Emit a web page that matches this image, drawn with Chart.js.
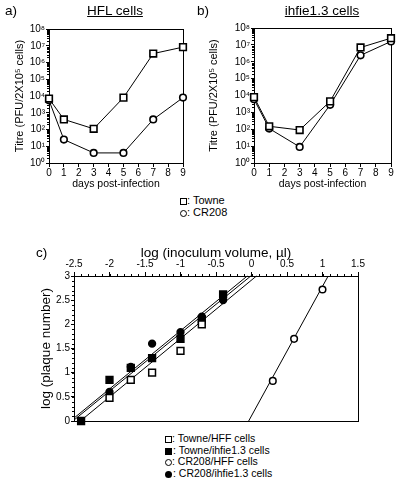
<!DOCTYPE html>
<html><head><meta charset="utf-8">
<script src="https://cdn.jsdelivr.net/npm/chart.js@4"></script>
<style>
body{margin:0;background:#fff;width:402px;height:485px;position:relative;overflow:hidden;font-family:"Liberation Sans",Arial,sans-serif;color:#000}
canvas{position:absolute}
.t{position:absolute;white-space:nowrap;line-height:1}
.sq{display:inline-block;width:5px;height:5px;border:1.5px solid #000;background:#fff;vertical-align:-1px}
.sqf{display:inline-block;width:7px;height:7px;background:#000;vertical-align:-1px;margin-right:1px}
.ci{display:inline-block;width:5px;height:5px;border:1.5px solid #000;border-radius:50%;background:#fff;vertical-align:-1px}
.cif{display:inline-block;width:7px;height:7px;border-radius:50%;background:#000;vertical-align:-1px;margin-right:1px}
.leg div{height:11.7px;line-height:11.7px}
</style></head><body>
<canvas id="ca" width="195" height="192" style="left:0;top:0"></canvas>
<canvas id="cb" width="207" height="192" style="left:195px;top:0"></canvas>
<canvas id="cc" width="402" height="200" style="left:0;top:230px"></canvas>

<div class="t" style="left:5px;top:4px;font-size:13.5px">a)</div>
<div class="t" style="left:115px;top:4px;font-size:13.5px;transform:translateX(-50%);text-decoration:underline">HFL cells</div>
<div class="t" style="left:197px;top:4px;font-size:13.5px">b)</div>
<div class="t" style="left:322px;top:4px;font-size:13.5px;transform:translateX(-50%);text-decoration:underline">ihfie1.3 cells</div>

<div class="t leg" style="left:180px;top:195px;font-size:11px">
<div><span class="sq"></span>: Towne</div>
<div><span class="ci"></span>: CR208</div>
</div>

<div class="t" style="left:36px;top:246px;font-size:13.5px">c)</div>

<div class="t leg" style="left:165px;top:433px;font-size:10.5px">
<div><span class="sq"></span>: Towne/HFF cells</div>
<div><span class="sqf"></span>: Towne/ihfie1.3 cells</div>
<div><span class="ci"></span>: CR208/HFF cells</div>
<div><span class="cif"></span>: CR208/ihfie1.3 cells</div>
</div>

<script>
// ---------- data ----------
const days = [0, 1, 3, 5, 7, 9];
const hflTowne = [7000, 400, 110, 8000, 3.4e6, 8.3e6];
const hflCR208 = [5500, 25, 4, 4, 400, 8000];
const ihfTowne = [8000, 150, 90, 4500, 7e6, 2.5e7];
const ihfCR208 = [6000, 110, 9, 2800, 2.4e6, 1.6e7];
const dayTicks = [0, 1, 2, 3, 4, 5, 6, 7, 8, 9];
const titreTicks = [1, 10, 100, 1e3, 1e4, 1e5, 1e6, 1e7, 1e8];
const titreLabels = ['10⁰', '10¹', '10²', '10³', '10⁴', '10⁵', '10⁶', '10⁷', '10⁸'];

const volTicks = [-2.5, -2, -1.5, -1, -0.5, 0, 0.5, 1, 1.5];
const volLabels = ['-2.5', '-2', '-1.5', '-1', '-0.5', '0', '0.5', '1', '1.5'];
const plaqueTicks = [0, 0.5, 1, 1.5, 2, 2.5, 3];
const plaqueLabels = ['0', '0.5', '1', '1.5', '2', '2.5', '3'];

const towneHffX = [-2.0, -1.7, -1.4, -1.0, -0.7];
const towneHffY = [0.48, 0.85, 1.0, 1.45, 2.0];
const towneIhfX = [-2.4, -2.0, -1.7, -1.4, -1.0, -0.7, -0.4];
const towneIhfY = [0.0, 0.85, 1.1, 1.3, 1.7, 2.1, 2.62];
const crHffX = [0.3, 0.6, 1.0];
const crHffY = [0.83, 1.7, 2.72];
const crIhfX = [-2.0, -1.7, -1.4, -1.0, -0.7, -0.4];
const crIhfY = [0.6, 1.12, 1.6, 1.84, 2.16, 2.5];

// fitted lines (end points)
const fitTowneHffX = [-2.41, 0.07], fitTowneHffY = [0, 3];
const fitTowneIhfX = [-2.5, -0.01], fitTowneIhfY = [0.02, 3];
const fitCrIhfX = [-2.5, -0.06], fitCrIhfY = [0.06, 3];
const fitCrHffX = [-0.04, 1.08], fitCrHffY = [0, 3];

// ---------- helpers ----------
const FONT = '"Liberation Sans", Arial, sans-serif';
const pts = (xs, ys) => xs.map((x, i) => ({x, y: ys[i]}));
const logMinor = [];
for (let n = 0; n < 8; n++) for (let k = 2; k <= 9; k++) logMinor.push(k * Math.pow(10, n));
const stepMinor = (a, b, s) => { const r = []; for (let v = a; v <= b + 1e-9; v += s) r.push(+v.toFixed(3)); return r; };

const framePlugin = {
  id: 'frame',
  beforeDatasetsDraw(chart, args, opts) {
    const ctx = chart.ctx;
    ctx.save();
    ctx.strokeStyle = '#000';
    ctx.lineWidth = 1;
    (opts.minor || []).forEach(s => {
      const sc = chart.scales[s.scale];
      s.values.forEach(v => {
        const p = Math.round(sc.getPixelForValue(v)) + 0.5;
        ctx.beginPath();
        if (sc.position === 'left') { const x = Math.round(chart.chartArea.left); ctx.moveTo(x - s.len, p); ctx.lineTo(x, p); }
        else if (sc.position === 'top') { const y = Math.round(chart.chartArea.top); ctx.moveTo(p, y - s.len); ctx.lineTo(p, y); }
        else { const y = Math.round(chart.chartArea.bottom); ctx.moveTo(p, y); ctx.lineTo(p, y + s.len); }
        ctx.stroke();
      });
    });
    const a = chart.chartArea;
    const l = Math.round(a.left) + 0.5, t = Math.round(a.top) + 0.5;
    ctx.strokeRect(l, t, Math.round(a.right) - Math.round(a.left), Math.round(a.bottom) - Math.round(a.top));
    ctx.restore();
  }
};

function timeChart(id, towne, cr, pad, yW, yTitlePad) {
  return new Chart(document.getElementById(id), {
    type: 'line',
    data: {
      datasets: [
        {label: 'Towne', data: pts(days, towne), borderColor: '#000', borderWidth: 1,
         pointStyle: 'rect', pointRadius: 4.7, pointBorderWidth: 1.6, pointBackgroundColor: '#fff', pointBorderColor: '#000', clip: false},
        {label: 'CR208', data: pts(days, cr), borderColor: '#000', borderWidth: 1,
         pointStyle: 'circle', pointRadius: 3.3, pointBorderWidth: 1.6, pointBackgroundColor: '#fff', pointBorderColor: '#000', clip: false}
      ]
    },
    options: {
      responsive: false, animation: false,
      layout: {padding: pad},
      plugins: {legend: {display: false}, tooltip: {enabled: false},
        frame: {minor: [{scale: 'y', values: logMinor, len: 2}]}},
      scales: {
        x: {type: 'linear', position: 'bottom', min: 0, max: 9,
          afterBuildTicks: s => { s.ticks = dayTicks.map(v => ({value: v})); },
          afterFit: s => { s.height = 192 - 163 - pad.bottom; },
          ticks: {color: '#000', font: {family: FONT, size: 10}, padding: 0, maxRotation: 0, autoSkip: false,
            callback: (v, i) => String(dayTicks[i])},
          grid: {display: true, drawOnChartArea: false, tickLength: 4, color: '#000'},
          border: {display: false},
          title: {display: true, text: 'days post-infection', color: '#000', font: {family: FONT, size: 10.5}, padding: {top: 0, bottom: 2}}
        },
        y: {type: 'logarithmic', position: 'left', min: 1, max: 1e8,
          afterBuildTicks: s => { s.ticks = titreTicks.map(v => ({value: v})); },
          afterFit: s => { s.width = yW; },
          ticks: {color: '#000', font: {family: FONT, size: 10}, padding: 1, autoSkip: false,
            callback: (v, i) => titreLabels[i]},
          grid: {display: true, drawOnChartArea: false, tickLength: 3, color: '#000'},
          border: {display: false},
          title: {display: true, text: 'Titre (PFU/2X10⁵ cells)', color: '#000', font: {family: FONT, size: 11}, padding: {top: yTitlePad, bottom: 0}}
        }
      }
    },
    plugins: [framePlugin]
  });
}

timeChart('ca', hflTowne, hflCR208, {left: 0, top: 29, right: 12, bottom: 0}, 49, 13);
timeChart('cb', ihfTowne, ihfCR208, {left: 0, top: 28, right: 11, bottom: 0}, 59, 12);

const mk = (label, xs, ys, style, r, fill) => ({label, data: pts(xs, ys), showLine: false, pointStyle: style, pointRadius: r,
  pointBackgroundColor: fill, pointBorderColor: '#000', pointBorderWidth: 1.5, clip: false});
const fit = (label, xs, ys) => ({label, data: pts(xs, ys), showLine: true, borderColor: '#000', borderWidth: 1, pointRadius: 0, clip: false});

new Chart(document.getElementById('cc'), {
  type: 'scatter',
  data: {
    datasets: [
      mk('Towne/HFF cells', towneHffX, towneHffY, 'rect', 4.8, '#fff'),
      mk('Towne/ihfie1.3 cells', towneIhfX, towneIhfY, 'rect', 4.8, '#000'),
      mk('CR208/HFF cells', crHffX, crHffY, 'circle', 3.3, '#fff'),
      mk('CR208/ihfie1.3 cells', crIhfX, crIhfY, 'circle', 3.4, '#000'),
      fit('fit Towne/HFF', fitTowneHffX, fitTowneHffY),
      fit('fit Towne/ihfie1.3', fitTowneIhfX, fitTowneIhfY),
      fit('fit CR208/ihfie1.3', fitCrIhfX, fitCrIhfY),
      fit('fit CR208/HFF', fitCrHffX, fitCrHffY)
    ]
  },
  options: {
    responsive: false, animation: false,
    layout: {padding: {left: 0, top: 0, right: 44, bottom: 9}},
    plugins: {legend: {display: false}, tooltip: {enabled: false},
      frame: {minor: [{scale: 'x', values: stepMinor(-2.5, 1.5, 0.1), len: 2}, {scale: 'y', values: stepMinor(0, 3, 0.1), len: 2}]}},
    scales: {
      x: {type: 'linear', position: 'top', min: -2.5, max: 1.5,
        afterBuildTicks: s => { s.ticks = volTicks.map(v => ({value: v})); },
        afterFit: s => { s.height = 46; },
        ticks: {color: '#000', font: {family: FONT, size: 10}, padding: 2, maxRotation: 0, autoSkip: false,
          callback: (v, i) => volLabels[i]},
        grid: {display: true, drawOnChartArea: false, tickLength: 4, color: '#000'},
        border: {display: false},
        title: {display: true, text: 'log (inoculum volume, µl)', color: '#000', font: {family: FONT, size: 13.5}, padding: {top: 15, bottom: 0}}
      },
      y: {type: 'linear', position: 'left', min: 0, max: 3,
        afterBuildTicks: s => { s.ticks = plaqueTicks.map(v => ({value: v})); },
        afterFit: s => { s.width = 74; },
        ticks: {color: '#000', font: {family: FONT, size: 10}, padding: 1, autoSkip: false,
          callback: (v, i) => plaqueLabels[i]},
        grid: {display: true, drawOnChartArea: false, tickLength: 3, color: '#000'},
        border: {display: false},
        title: {display: true, text: 'log (plaque number)', color: '#000', font: {family: FONT, size: 13.5}, padding: {top: 38, bottom: 0}}
      }
    }
  },
  plugins: [framePlugin]
});
</script>
</body></html>
